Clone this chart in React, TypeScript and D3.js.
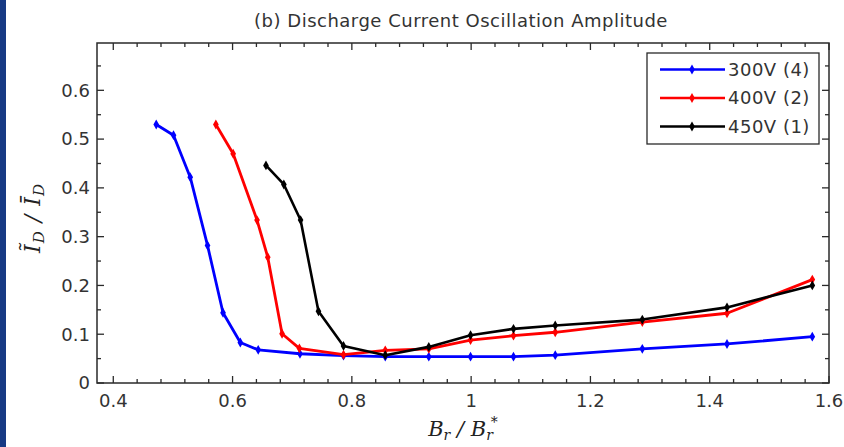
import React from "react";
import * as d3 from "d3";

const xBlue = [0.472, 0.501, 0.529, 0.558, 0.584, 0.613, 0.643, 0.713, 0.786, 0.856, 0.929, 0.999, 1.071, 1.141, 1.287, 1.429, 1.572];
const yBlue = [0.530, 0.508, 0.422, 0.282, 0.144, 0.083, 0.068, 0.060, 0.056, 0.054, 0.054, 0.054, 0.054, 0.057, 0.070, 0.080, 0.095];

const xRed = [0.572, 0.601, 0.641, 0.659, 0.683, 0.712, 0.786, 0.856, 0.929, 0.999, 1.071, 1.141, 1.287, 1.429, 1.572];
const yRed = [0.530, 0.470, 0.334, 0.258, 0.101, 0.071, 0.058, 0.067, 0.070, 0.088, 0.097, 0.104, 0.125, 0.143, 0.212];

const xBlack = [0.656, 0.686, 0.714, 0.744, 0.786, 0.856, 0.929, 0.999, 1.071, 1.141, 1.287, 1.429, 1.572];
const yBlack = [0.446, 0.407, 0.334, 0.147, 0.076, 0.057, 0.074, 0.098, 0.111, 0.118, 0.130, 0.155, 0.200];

const seriesNames = ["300V (4)", "400V (2)", "450V (1)"];
const seriesColors = ["#0000ff", "#ff0000", "#000000"];

const xTickValues = [0.4, 0.6, 0.8, 1.0, 1.2, 1.4, 1.6];
const xTickLabels = ["0.4", "0.6", "0.8", "1", "1.2", "1.4", "1.6"];
const yTickValues = [0, 0.1, 0.2, 0.3, 0.4, 0.5, 0.6];
const yTickLabels = ["0", "0.1", "0.2", "0.3", "0.4", "0.5", "0.6"];

const title = "(b) Discharge Current Oscillation Amplitude";

const W = 844, H = 447;
const L = 97, R = 829, T = 43, B = 383;

export default function App() {
  const x = d3.scaleLinear().domain([0.3727, 1.6]).range([L, R]);
  const y = d3.scaleLinear().domain([0, 0.697]).range([B, T]);

  const series = [
    { xs: xBlue, ys: yBlue },
    { xs: xRed, ys: yRed },
    { xs: xBlack, ys: yBlack },
  ].map((s, i) => ({
    pts: s.xs.map((v, j) => [v, s.ys[j]] as [number, number]),
    color: seriesColors[i],
    name: seriesNames[i],
  }));

  const line = d3.line<[number, number]>().x(d => x(d[0])).y(d => y(d[1]));
  const diamond = d3.symbol().type(d3.symbolDiamond).size(28)() as string;

  const xMinor = d3.range(0.4, 1.6001, 0.04).map(v => +v.toFixed(2)).filter(v => !xTickValues.some(t => Math.abs(t - v) < 1e-6));
  const yMinor = d3.range(0.05, 0.7, 0.1).map(v => +v.toFixed(2));

  const axisColor = "#2a2a2a";
  const textColor = "#333";
  const font = "DejaVu Sans";

  const legX = 647, legY = 53, legW = 172, legH = 91;
  const rowYs = [69.5, 98, 126.5];

  return (
    <svg width={W} height={H} style={{ position: "absolute", left: 0, top: 0, background: "#fff" }}>
      <rect x={0} y={0} width={W} height={H} fill="#fff" />
      <rect x={0} y={0} width={6} height={H} fill="#173a84" />
      <text x={461} y={27} textAnchor="middle" fontFamily={font} fontSize={18} letterSpacing={0.5} fill={textColor}>{title}</text>

      <defs>
        <clipPath id="plotclip"><rect x={L} y={T} width={R - L} height={B - T} /></clipPath>
      </defs>

      <g clipPath="url(#plotclip)">
        {series.map((s, i) => (
          <g key={i}>
            <path d={line(s.pts) || ""} fill="none" stroke={s.color} strokeWidth={i === 2 ? 2.6 : 2.8} strokeLinejoin="round" />
            {s.pts.map((p, j) => (
              <path key={j} d={diamond} transform={`translate(${x(p[0])},${y(p[1])})`} fill={s.color} />
            ))}
          </g>
        ))}
      </g>

      <rect x={L} y={T} width={R - L} height={B - T} fill="none" stroke={axisColor} strokeWidth={1.5} />

      {xTickValues.map((v, i) => (
        <g key={"xt" + i}>
          <line x1={x(v)} x2={x(v)} y1={B} y2={B - 7} stroke={axisColor} strokeWidth={1.3} />
          <line x1={x(v)} x2={x(v)} y1={T} y2={T + 7} stroke={axisColor} strokeWidth={1.3} />
          <text x={x(v)} y={407} textAnchor="middle" fontFamily={font} fontSize={18} fill={textColor}>{xTickLabels[i]}</text>
        </g>
      ))}
      {xMinor.map((v, i) => (
        <g key={"xm" + i}>
          <line x1={x(v)} x2={x(v)} y1={B} y2={B - 4} stroke={axisColor} strokeWidth={1.3} />
          <line x1={x(v)} x2={x(v)} y1={T} y2={T + 4} stroke={axisColor} strokeWidth={1.3} />
        </g>
      ))}

      {yTickValues.map((v, i) => (
        <g key={"yt" + i}>
          <line x1={L} x2={L + 7} y1={y(v)} y2={y(v)} stroke={axisColor} strokeWidth={1.3} />
          <line x1={R} x2={R - 7} y1={y(v)} y2={y(v)} stroke={axisColor} strokeWidth={1.3} />
          <text x={90} y={y(v)} dy="0.35em" textAnchor="end" fontFamily={font} fontSize={18} fill={textColor}>{yTickLabels[i]}</text>
        </g>
      ))}
      {yMinor.map((v, i) => (
        <g key={"ym" + i}>
          <line x1={L} x2={L + 4} y1={y(v)} y2={y(v)} stroke={axisColor} strokeWidth={1.3} />
          <line x1={R} x2={R - 4} y1={y(v)} y2={y(v)} stroke={axisColor} strokeWidth={1.3} />
        </g>
      ))}

      <rect x={legX} y={legY} width={legW} height={legH} fill="#fff" stroke={axisColor} strokeWidth={1.3} />
      {series.map((s, i) => (
        <g key={"lg" + i}>
          <line x1={660} x2={725} y1={rowYs[i]} y2={rowYs[i]} stroke={s.color} strokeWidth={2.6} />
          <path d={diamond} transform={`translate(692,${rowYs[i]})`} fill={s.color} />
          <text x={728} y={rowYs[i]} dy="0.36em" fontFamily={font} fontSize={18} letterSpacing={0.5} fill={textColor}>{s.name}</text>
        </g>
      ))}

      <text x={463} y={436} textAnchor="middle" fontFamily="DejaVu Serif" fontStyle="italic" fontSize={21} fill="#222">
        <tspan>B</tspan><tspan fontSize={14} dy={4}>r</tspan><tspan dy={-4}> / B</tspan><tspan fontSize={14} dy={4}>r</tspan><tspan fontSize={14} dx={-2} dy={-13}>*</tspan>
      </text>
      <text transform="translate(40,218) rotate(-90)" textAnchor="middle" fontFamily="DejaVu Serif" fontStyle="italic" fontSize={22} letterSpacing={1} fill="#222">
        <tspan>Ĩ</tspan><tspan fontSize={15} dy={4}>D</tspan><tspan dy={-4}> / Ī</tspan><tspan fontSize={15} dy={4}>D</tspan>
      </text>
    </svg>
  );
}
